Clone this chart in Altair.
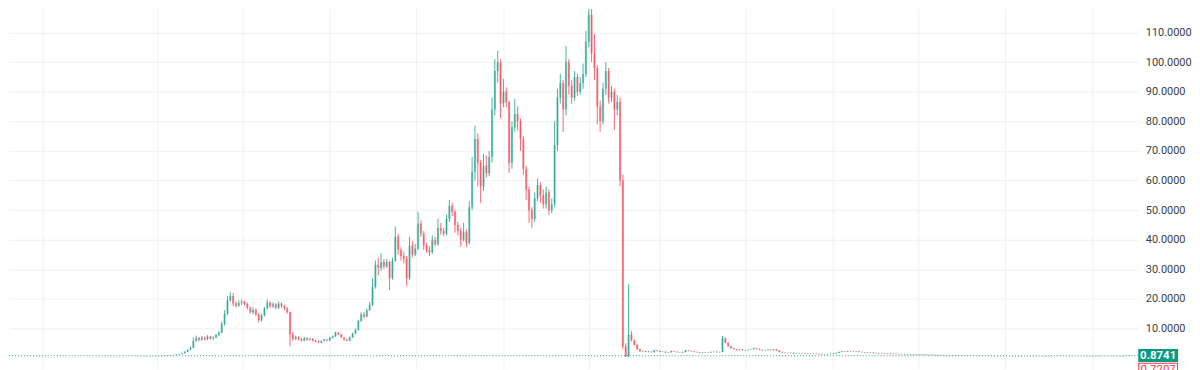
import altair as alt
import pandas as pd

# ---- data: 3-bar candles (close / high / low) ----
closes = [
    0.55, 0.50, 0.46, 0.42, 0.38, 0.35, 0.33, 0.30, 0.33, 0.31,
    0.29, 0.30, 0.28, 0.27, 0.29, 0.31, 0.30, 0.28, 0.27, 0.29,
    0.30, 0.31, 0.30, 0.29, 0.28, 0.30, 0.32, 0.34, 0.36, 0.34,
    0.33, 0.36, 0.38, 0.40, 0.37, 0.39, 0.42, 0.45, 0.50, 0.48,
    0.52, 0.55, 0.60, 0.58, 0.62, 0.65, 0.70, 0.80, 0.90, 1.05,
    1.10, 1.20, 1.40, 1.70, 2.20, 2.80, 3.50, 5.80, 6.80, 6.20,
    6.90, 6.40, 7.20, 6.60, 7.00, 7.80, 8.60, 11.50, 15.00, 19.50,
    21.00, 18.50, 17.80, 18.60, 19.00, 18.30, 17.00, 15.50, 16.30, 14.80,
    12.80, 14.50, 16.80, 18.80, 17.50, 18.20, 17.00, 18.40, 17.60, 16.80,
    15.50, 8.00, 6.50, 7.00, 6.40, 6.00, 6.80, 6.20, 6.50, 5.90,
    5.60, 5.30, 5.80, 6.20, 6.00, 6.90, 7.40, 8.60, 8.00, 7.00,
    6.20, 5.90, 7.00, 8.30, 9.50, 12.50, 14.80, 14.00, 16.20, 18.00,
    24.00, 31.50, 30.50, 32.50, 31.00, 32.50, 27.00, 33.00, 41.00, 36.50,
    34.50, 33.50, 27.00, 38.00, 35.00, 37.00, 45.50, 42.00, 38.00, 36.50,
    35.80, 40.00, 38.50, 44.00, 43.00, 42.00, 47.00, 51.50, 49.50, 45.00,
    43.00, 40.00, 42.50, 39.00, 51.00, 63.00, 74.00, 66.00, 58.00, 65.00,
    62.50, 68.00, 84.00, 97.00, 100.00, 86.00, 90.00, 86.50, 66.00, 78.00,
    82.50, 80.00, 74.00, 64.00, 57.00, 50.00, 47.00, 54.00, 58.50, 55.00,
    52.00, 56.00, 50.00, 52.00, 72.00, 88.00, 93.00, 84.00, 100.00, 92.00,
    88.00, 95.00, 90.00, 93.00, 96.00, 107.00, 116.00, 103.00, 98.00, 85.00,
    80.00, 91.00, 97.00, 88.00, 90.00, 84.00, 86.50, 60.00, 4.00, 0.50,
    8.00, 6.00, 4.50, 3.00, 2.30, 2.40, 2.10, 2.20, 2.00, 2.60,
    2.40, 2.10, 2.20, 1.90, 2.00, 2.40, 2.20, 2.00, 1.90, 2.10,
    2.60, 2.40, 2.30, 2.10, 2.00, 1.80, 1.90, 2.00, 1.90, 2.10,
    2.20, 2.00, 2.10, 6.80, 5.20, 4.00, 3.30, 3.00, 2.70, 2.90,
    2.60, 2.70, 2.90, 3.00, 3.40, 3.10, 2.80, 2.60, 2.70, 2.90,
    2.70, 3.00, 2.60, 2.10, 1.90, 1.80, 1.70, 1.80, 1.60, 1.70,
    1.60, 1.50, 1.60, 1.50, 1.40, 1.50, 1.40, 1.30, 1.40, 1.30,
    1.40, 1.50, 1.60, 1.80, 2.10, 2.30, 2.20, 2.40, 2.30, 2.20,
    2.30, 2.10, 2.00, 1.90, 1.80, 1.90, 1.70, 1.60, 1.70, 1.60,
    1.50, 1.60, 1.40, 1.50, 1.40, 1.30, 1.40, 1.30, 1.20, 1.30,
    1.20, 1.30, 1.20, 1.10, 1.20, 1.10, 1.20, 1.10, 1.00, 1.10,
    1.00, 1.00, 0.95, 1.00, 0.90, 0.85, 0.90, 0.85, 0.88, 0.82,
    0.80, 0.78, 0.80, 0.76, 0.74, 0.75, 0.72, 0.74, 0.70, 0.71,
    0.69, 0.68, 0.70, 0.66, 0.64, 0.62, 0.60, 0.62, 0.58, 0.57,
    0.55, 0.56, 0.54, 0.52, 0.55, 0.53, 0.50, 0.52, 0.49, 0.48,
    0.50, 0.47, 0.46, 0.48, 0.45, 0.47, 0.46, 0.45, 0.44, 0.46,
    0.45, 0.43, 0.44, 0.42, 0.44, 0.43, 0.45, 0.44, 0.46, 0.48,
    0.52, 0.55, 0.60, 0.65, 0.72, 0.80, 0.8741,
]

highs = [
    0.58, 0.57, 0.52, 0.48, 0.44, 0.40, 0.37, 0.35, 0.36, 0.35,
    0.33, 0.32, 0.32, 0.30, 0.31, 0.33, 0.33, 0.32, 0.30, 0.31,
    0.32, 0.33, 0.33, 0.32, 0.31, 0.32, 0.34, 0.36, 0.38, 0.38,
    0.36, 0.38, 0.40, 0.42, 0.42, 0.41, 0.44, 0.48, 0.53, 0.53,
    0.55, 0.58, 0.64, 0.63, 0.66, 0.69, 0.75, 0.85, 0.96, 1.12,
    1.18, 1.28, 1.50, 1.85, 2.40, 3.00, 3.90, 7.00, 7.60, 7.20,
    7.50, 7.30, 7.80, 7.50, 7.40, 8.20, 9.20, 12.40, 16.20, 21.00,
    22.30, 22.00, 19.20, 19.50, 19.80, 19.40, 18.80, 17.40, 17.20, 16.80,
    15.20, 15.00, 17.30, 19.80, 19.20, 18.90, 18.60, 19.20, 18.80, 18.00,
    17.20, 15.80, 8.80, 7.60, 7.40, 6.90, 7.20, 7.10, 6.90, 6.80,
    6.20, 5.90, 6.00, 6.50, 6.50, 7.20, 7.70, 8.90, 8.80, 8.20,
    7.20, 6.50, 7.30, 8.60, 10.00, 13.00, 15.50, 15.60, 16.80, 19.00,
    27.00, 33.00, 34.00, 35.50, 33.50, 33.50, 33.00, 34.00, 44.50, 42.00,
    37.50, 36.00, 34.50, 41.00, 39.50, 38.50, 49.50, 46.50, 43.00, 39.00,
    37.80, 41.50, 41.00, 47.00, 45.70, 44.00, 48.50, 53.40, 52.50, 50.00,
    46.00, 44.00, 45.70, 43.50, 53.00, 68.00, 78.60, 76.00, 67.00, 69.00,
    68.50, 70.00, 88.00, 101.00, 103.90, 101.00, 94.40, 91.50, 87.00, 80.00,
    87.70, 85.00, 81.00, 75.00, 65.00, 58.00, 51.00, 56.00, 60.80, 59.50,
    57.00, 58.00, 57.00, 54.00, 80.00, 91.00, 96.00, 94.00, 105.50, 101.00,
    94.00, 97.00, 96.00, 95.00, 99.50, 110.60, 119.70, 118.00, 109.50, 99.00,
    87.00, 93.00, 100.00, 98.00, 92.00, 91.00, 89.00, 88.00, 62.00, 5.00,
    25.00, 9.20, 6.40, 4.80, 3.20, 2.60, 2.50, 2.40, 2.30, 2.90,
    2.70, 2.50, 2.30, 2.30, 2.10, 2.50, 2.50, 2.30, 2.10, 2.20,
    2.80, 2.70, 2.50, 2.40, 2.20, 2.10, 2.00, 2.10, 2.10, 2.20,
    2.30, 2.30, 2.20, 7.50, 6.90, 5.40, 4.20, 3.40, 3.10, 3.00,
    3.00, 2.80, 3.00, 3.10, 3.50, 3.50, 3.20, 2.90, 2.80, 3.00,
    3.00, 3.10, 3.10, 2.70, 2.20, 2.00, 1.90, 1.90, 1.90, 1.80,
    1.80, 1.70, 1.70, 1.70, 1.60, 1.60, 1.60, 1.50, 1.50, 1.50,
    1.50, 1.60, 1.70, 1.90, 2.20, 2.40, 2.40, 2.50, 2.50, 2.40,
    2.40, 2.40, 2.20, 2.10, 2.00, 2.00, 2.00, 1.80, 1.80, 1.80,
    1.70, 1.70, 1.70, 1.60, 1.60, 1.50, 1.50, 1.50, 1.40, 1.40,
    1.40, 1.40, 1.40, 1.30, 1.30, 1.30, 1.30, 1.30, 1.20, 1.20,
    1.15, 1.10, 1.05, 1.05, 1.05, 0.95, 0.95, 0.95, 0.92, 0.92,
    0.86, 0.84, 0.83, 0.83, 0.79, 0.78, 0.78, 0.77, 0.76, 0.74,
    0.74, 0.72, 0.73, 0.72, 0.68, 0.66, 0.64, 0.65, 0.64, 0.60,
    0.60, 0.58, 0.58, 0.56, 0.57, 0.57, 0.55, 0.54, 0.54, 0.51,
    0.52, 0.52, 0.49, 0.50, 0.50, 0.49, 0.49, 0.48, 0.47, 0.48,
    0.48, 0.47, 0.46, 0.46, 0.46, 0.46, 0.47, 0.47, 0.48, 0.50,
    0.55, 0.58, 0.64, 0.70, 0.78, 0.86, 0.92,
]

lows = [
    0.52, 0.48, 0.44, 0.40, 0.36, 0.33, 0.31, 0.28, 0.29, 0.29,
    0.27, 0.27, 0.26, 0.25, 0.25, 0.27, 0.28, 0.26, 0.25, 0.25,
    0.27, 0.28, 0.28, 0.27, 0.26, 0.26, 0.28, 0.30, 0.32, 0.32,
    0.31, 0.31, 0.34, 0.36, 0.35, 0.35, 0.37, 0.40, 0.43, 0.46,
    0.46, 0.50, 0.53, 0.55, 0.56, 0.59, 0.62, 0.67, 0.76, 0.86,
    1.00, 1.05, 1.15, 1.35, 1.60, 2.10, 2.70, 3.40, 5.50, 5.70,
    5.90, 6.00, 6.00, 6.30, 6.20, 6.70, 7.50, 8.40, 11.00, 14.50,
    19.00, 17.50, 17.00, 17.30, 18.00, 17.80, 16.50, 15.00, 14.80, 14.20,
    12.00, 12.30, 14.00, 16.40, 17.00, 17.00, 16.50, 16.60, 17.00, 16.20,
    15.00, 4.00, 5.80, 6.10, 6.00, 5.60, 5.70, 5.90, 5.90, 5.60,
    5.30, 5.10, 5.10, 5.60, 5.80, 5.80, 6.70, 7.20, 7.80, 6.80,
    6.00, 5.80, 5.70, 6.80, 8.10, 9.30, 12.30, 13.50, 13.80, 16.00,
    17.50, 23.50, 28.00, 29.50, 30.00, 30.50, 23.00, 26.50, 32.50, 35.00,
    33.00, 32.00, 24.30, 26.50, 34.00, 34.50, 36.50, 41.00, 36.60, 35.60,
    34.50, 35.20, 37.80, 38.00, 41.70, 41.20, 41.50, 46.00, 48.00, 42.40,
    41.50, 37.70, 39.50, 37.50, 38.50, 50.00, 60.00, 58.00, 52.40, 56.50,
    61.00, 61.50, 66.00, 82.00, 93.00, 81.00, 84.80, 84.80, 62.50, 64.00,
    76.50, 77.00, 70.00, 62.00, 53.40, 45.70, 44.00, 46.00, 53.00, 52.50,
    50.50, 50.50, 48.40, 49.00, 51.00, 70.00, 86.00, 76.40, 82.00, 89.00,
    86.00, 87.00, 88.50, 89.00, 91.00, 95.00, 105.00, 100.00, 94.00, 79.00,
    76.40, 79.00, 89.00, 86.00, 86.50, 77.00, 82.00, 58.00, 3.00, 0.30,
    0.40, 5.60, 4.20, 2.80, 2.20, 2.20, 2.00, 2.00, 1.90, 1.90,
    2.30, 2.00, 2.00, 1.80, 1.80, 1.90, 2.10, 1.90, 1.80, 1.80,
    2.00, 2.30, 2.20, 2.00, 1.90, 1.70, 1.70, 1.80, 1.80, 1.80,
    2.00, 1.90, 1.90, 2.00, 5.00, 3.80, 3.20, 2.90, 2.60, 2.60,
    2.50, 2.50, 2.60, 2.80, 2.90, 3.00, 2.70, 2.50, 2.50, 2.60,
    2.60, 2.60, 2.50, 2.00, 1.80, 1.70, 1.60, 1.60, 1.50, 1.50,
    1.50, 1.40, 1.40, 1.40, 1.30, 1.30, 1.30, 1.20, 1.20, 1.20,
    1.20, 1.30, 1.40, 1.50, 1.70, 2.00, 2.10, 2.10, 2.20, 2.10,
    2.10, 2.00, 1.90, 1.80, 1.70, 1.70, 1.60, 1.50, 1.50, 1.50,
    1.40, 1.40, 1.30, 1.30, 1.30, 1.20, 1.20, 1.20, 1.10, 1.10,
    1.10, 1.10, 1.10, 1.00, 1.00, 1.00, 1.00, 1.00, 0.90, 0.90,
    0.95, 0.92, 0.90, 0.90, 0.85, 0.80, 0.82, 0.80, 0.80, 0.78,
    0.77, 0.75, 0.75, 0.73, 0.71, 0.71, 0.69, 0.70, 0.67, 0.68,
    0.66, 0.65, 0.66, 0.63, 0.61, 0.59, 0.57, 0.58, 0.55, 0.54,
    0.52, 0.52, 0.51, 0.49, 0.50, 0.50, 0.47, 0.48, 0.46, 0.45,
    0.46, 0.45, 0.44, 0.44, 0.43, 0.43, 0.44, 0.43, 0.42, 0.42,
    0.43, 0.41, 0.41, 0.40, 0.40, 0.41, 0.41, 0.42, 0.42, 0.44,
    0.46, 0.50, 0.53, 0.58, 0.63, 0.70, 0.78,
]

first_bar = -133          # bar index of the first candle (bar 0 = first bar of 2021)
bars_per_candle = 3
quarter_bars = [-121, 0, 90, 181, 273, 365, 455, 530, 620, 712, 803, 894, 986]
price_ticks = [10, 20, 30, 40, 50, 60, 70, 80, 90, 100, 110]
last_price = 0.8741
second_price = 0.7207
second_label_level = -4.1   # where the stacked label sits on the price scale

# ---- build table ----
opens = [closes[0]] + closes[:-1]
df = pd.DataFrame({
    "bar": [first_bar + bars_per_candle * i for i in range(len(closes))],
    "open": opens,
    "close": closes,
    "high": highs,
    "low": lows,
})
df["dir"] = ["up" if c >= o else "down" for o, c in zip(df["open"], df["close"])]

labels_df = pd.DataFrame({
    "level": [last_price, second_label_level],
    "text": [f"{last_price:.4f}", f"{second_price:.4f}"],
    "kind": ["last", "second"],
})
last_df = labels_df[labels_df["kind"] == "last"]
second_df = labels_df[labels_df["kind"] == "second"]

UP = "#089981"
DOWN = "#F23645"
W = 1135
H = 362

xscale = alt.Scale(domain=[-151.1, 1029.2], nice=False, zero=False)
yscale = alt.Scale(domain=[-3.70, 117.98], nice=False, zero=False)
xaxis = alt.Axis(values=quarter_bars, labels=False, ticks=False, domain=False,
                 title=None, grid=True, gridColor="#eef0f3", gridWidth=1)
yaxis = alt.Axis(orient="right", values=price_ticks, format=".4f", title=None,
                 ticks=False, domain=False, grid=True, gridColor="#eef0f3",
                 labelFont="Roboto", labelFontSize=11, labelColor="#3a3e48",
                 labelPadding=7, labelOverlap=False, labelBound=False,
                 labelFlush=False)
color = alt.Color("dir:N", scale=alt.Scale(domain=["up", "down"], range=[UP, DOWN]),
                  legend=None)

base = alt.Chart(df)

wicks = base.mark_rule(strokeWidth=1, opacity=0.75, clip=True).encode(
    x=alt.X("bar:Q", scale=xscale, axis=xaxis),
    y=alt.Y("low:Q", scale=yscale, axis=yaxis),
    y2="high:Q",
    color=color,
)

bodies = base.mark_bar(size=2.2, opacity=0.45, clip=True).encode(
    x=alt.X("bar:Q", scale=xscale, axis=xaxis),
    y=alt.Y("open:Q", scale=yscale, axis=yaxis),
    y2="close:Q",
    color=color,
)

price_line = alt.Chart(last_df).mark_rule(
    color=UP, strokeDash=[1, 2], strokeWidth=1.2, opacity=0.7
).encode(y=alt.Y("level:Q", scale=yscale, axis=yaxis))

last_box = alt.Chart(last_df).mark_rule(color=UP, strokeWidth=13, strokeCap="butt", clip=False).encode(
    y=alt.Y("level:Q", scale=yscale, axis=yaxis), x=alt.value(W), x2=alt.value(W + 40)
)
last_text = alt.Chart(last_df).mark_text(
    color="white", fontWeight="bold", fontSize=11.5, font="Roboto",
    align="center", baseline="middle", clip=False
).encode(y=alt.Y("level:Q", scale=yscale, axis=yaxis), x=alt.value(W + 20), text="text:N")

second_border = alt.Chart(second_df).mark_rule(color=DOWN, strokeWidth=15, strokeCap="butt", clip=False).encode(
    y=alt.Y("level:Q", scale=yscale, axis=yaxis), x=alt.value(W), x2=alt.value(W + 40)
)
second_fill = alt.Chart(second_df).mark_rule(color="white", strokeWidth=13, strokeCap="butt", clip=False).encode(
    y=alt.Y("level:Q", scale=yscale, axis=yaxis), x=alt.value(W + 1), x2=alt.value(W + 39)
)
second_text = alt.Chart(second_df).mark_text(
    color=DOWN, fontSize=11.5, font="Roboto", align="center", baseline="middle", clip=False
).encode(y=alt.Y("level:Q", scale=yscale, axis=yaxis), x=alt.value(W + 20), text="text:N")

chart = alt.layer(
    wicks, bodies, price_line, last_box, last_text, second_border, second_fill, second_text
).properties(
    width=W, height=H, padding=0, background="white"
).configure_view(stroke=None)

chart.save("out.html", embed_options={"renderer": "svg", "actions": False})
